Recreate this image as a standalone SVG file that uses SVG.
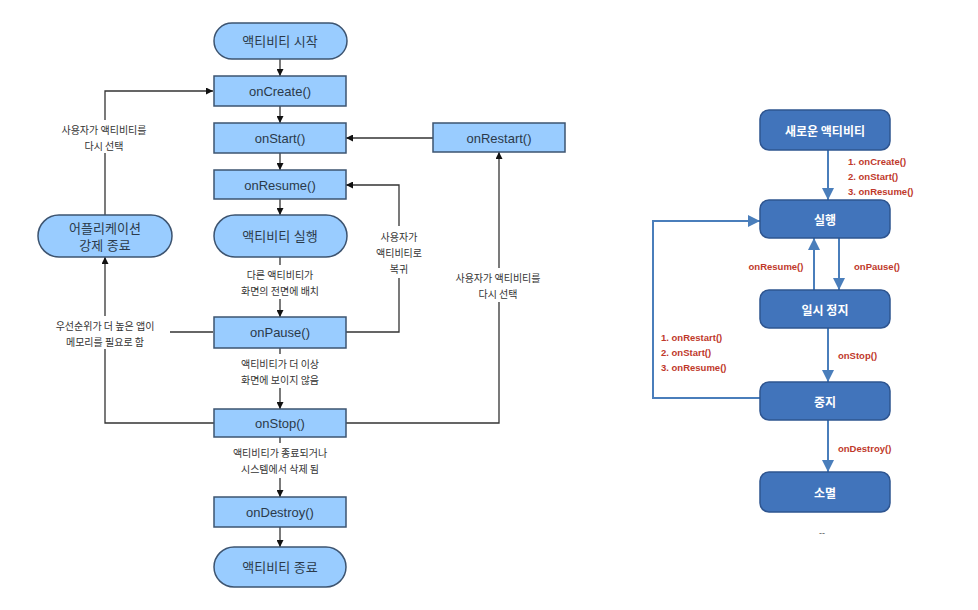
<svg xmlns="http://www.w3.org/2000/svg" width="978" height="610" viewBox="0 0 978 610">
<style>
.bg{fill:#ffffff}
.lnode{fill:#99ccff;stroke:#3d5470;stroke-width:1.5}
.ltxt{font-family:"Liberation Sans","Noto Sans CJK KR",sans-serif;font-size:13px;fill:#2b3a4a;text-anchor:middle;dominant-baseline:central}
.llab{font-family:"Noto Sans CJK KR","Liberation Sans",sans-serif;font-size:10px;fill:#333;text-anchor:middle;dominant-baseline:central}
.lline{fill:none;stroke:#333;stroke-width:1.3}
.rnode{fill:#4174bb;stroke:#2e5590;stroke-width:1.5}
.rtxt{font-family:"Noto Sans CJK KR","Liberation Sans",sans-serif;font-size:12px;font-weight:bold;fill:#ffffff;text-anchor:middle;dominant-baseline:central}
.rlab{font-family:"Liberation Sans","Noto Sans CJK KR",sans-serif;font-size:9.5px;font-weight:bold;fill:#c0392b;dominant-baseline:central}
.rline{fill:none;stroke:#4a7ebb;stroke-width:2}
</style>
<defs>
<marker id="ah" viewBox="0 0 10 10" refX="10" refY="5" markerWidth="7" markerHeight="7" markerUnits="userSpaceOnUse" orient="auto">
<path d="M0,0 L10,5 L0,10 z" fill="#111"/>
</marker>
<marker id="bh" viewBox="0 0 10 10" refX="10" refY="5" markerWidth="12" markerHeight="12" markerUnits="userSpaceOnUse" orient="auto">
<path d="M0,0 L10,5 L0,10 z" fill="#4a7ebb"/>
</marker>
</defs>
<rect class="bg" x="0" y="0" width="978" height="610"/>

<g id="connectors">
<path class="lline" d="M280,59 V76" marker-end="url(#ah)"/>
<path class="lline" d="M280,106 V123" marker-end="url(#ah)"/>
<path class="lline" d="M280,153 V170" marker-end="url(#ah)"/>
<path class="lline" d="M280,199 V215" marker-end="url(#ah)"/>
<path class="lline" d="M280,257 V265"/>
<path class="lline" d="M280,299 V317" marker-end="url(#ah)"/>
<path class="lline" d="M280,348 V354"/>
<path class="lline" d="M280,388 V409" marker-end="url(#ah)"/>
<path class="lline" d="M280,437 V443"/>
<path class="lline" d="M280,478 V497" marker-end="url(#ah)"/>
<path class="lline" d="M280,527 V547" marker-end="url(#ah)"/>
<path class="lline" d="M214,423 H105 V349"/>
<path class="lline" d="M105,316 V257" marker-end="url(#ah)"/>
<path class="lline" d="M213,332 H170"/>
<path class="lline" d="M105,215 V153"/>
<path class="lline" d="M105,120 V91 H213" marker-end="url(#ah)"/>
<path class="lline" d="M346,332 H399 V278"/>
<path class="lline" d="M399,226 V185 H346" marker-end="url(#ah)"/>
<path class="lline" d="M346,423 H499 V302"/>
<path class="lline" d="M499,268 V152" marker-end="url(#ah)"/>
<path class="lline" d="M433,138 H346" marker-end="url(#ah)"/>

<path class="rline" d="M828,150 V200" marker-end="url(#bh)"/>
<path class="rline" d="M839,238 V290" marker-end="url(#bh)"/>
<path class="rline" d="M814,290 V238" marker-end="url(#bh)"/>
<path class="rline" d="M828,328 V382" marker-end="url(#bh)"/>
<path class="rline" d="M828,420 V472" marker-end="url(#bh)"/>
<path class="rline" d="M760,398 H653 V221 H760" marker-end="url(#bh)"/>
</g>

<g id="connector-labels">
<text class="llab" x="280" y="274">다른 액티비티가</text>
<text class="llab" x="280" y="290">화면의 전면에 배치</text>
<text class="llab" x="280" y="363">액티비티가 더 이상</text>
<text class="llab" x="280" y="379">화면에 보이지 않음</text>
<text class="llab" x="280" y="452">액티비티가 종료되거나</text>
<text class="llab" x="280" y="468">시스템에서 삭제 됨</text>
<text class="llab" x="105" y="325">우선순위가 더 높은 앱이</text>
<text class="llab" x="105" y="341">메모리를 필요로 함</text>
<text class="llab" x="104" y="129">사용자가 액티비티를</text>
<text class="llab" x="104" y="145">다시 선택</text>
<text class="llab" x="399" y="236">사용자가</text>
<text class="llab" x="399" y="252">액티비티로</text>
<text class="llab" x="399" y="268">복귀</text>
<text class="llab" x="498" y="277">사용자가 액티비티를</text>
<text class="llab" x="498" y="293">다시 선택</text>

<text class="rlab" x="848" y="161">1. onCreate()</text>
<text class="rlab" x="848" y="176">2. onStart()</text>
<text class="rlab" x="848" y="191">3. onResume()</text>
<text class="rlab" x="776" y="266" text-anchor="middle">onResume()</text>
<text class="rlab" x="877" y="266" text-anchor="middle">onPause()</text>
<text class="rlab" x="661" y="337">1. onRestart()</text>
<text class="rlab" x="661" y="352">2. onStart()</text>
<text class="rlab" x="661" y="367">3. onResume()</text>
<text class="rlab" x="838" y="355">onStop()</text>
<text class="rlab" x="838" y="448">onDestroy()</text>
</g>

<g id="start"><rect class="lnode" x="214" y="23" width="133" height="36" rx="18"/><text class="ltxt" x="280" y="41">액티비티 시작</text></g>
<g id="onCreate"><rect class="lnode" x="214" y="76" width="132" height="30"/><text class="ltxt" x="280" y="91">onCreate()</text></g>
<g id="onStart"><rect class="lnode" x="214" y="123" width="132" height="30"/><text class="ltxt" x="280" y="138">onStart()</text></g>
<g id="onResume"><rect class="lnode" x="214" y="170" width="132" height="29"/><text class="ltxt" x="280" y="185">onResume()</text></g>
<g id="running"><rect class="lnode" x="214" y="215" width="133" height="42" rx="21"/><text class="ltxt" x="280" y="236">액티비티 실행</text></g>
<g id="killed"><rect class="lnode" x="38" y="215" width="134" height="42" rx="21"/><text class="ltxt" x="105" y="228">어플리케이션</text><text class="ltxt" x="105" y="245">강제 종료</text></g>
<g id="onPause"><rect class="lnode" x="214" y="317" width="132" height="31"/><text class="ltxt" x="280" y="332">onPause()</text></g>
<g id="onStop"><rect class="lnode" x="214" y="409" width="132" height="28"/><text class="ltxt" x="280" y="423">onStop()</text></g>
<g id="onDestroy"><rect class="lnode" x="214" y="497" width="132" height="30"/><text class="ltxt" x="280" y="512">onDestroy()</text></g>
<g id="end"><rect class="lnode" x="214" y="547" width="132" height="40" rx="20"/><text class="ltxt" x="280" y="567">액티비티 종료</text></g>
<g id="onRestart"><rect class="lnode" x="433" y="123" width="132" height="29"/><text class="ltxt" x="499" y="138">onRestart()</text></g>

<g id="newActivity"><rect class="rnode" x="760" y="110" width="130" height="40" rx="9"/><text class="rtxt" x="825" y="130">새로운 액티비티</text></g>
<g id="rRunning"><rect class="rnode" x="760" y="200" width="130" height="38" rx="9"/><text class="rtxt" x="825" y="219">실행</text></g>
<g id="rPaused"><rect class="rnode" x="760" y="290" width="130" height="38" rx="9"/><text class="rtxt" x="825" y="309">일시 정지</text></g>
<g id="rStopped"><rect class="rnode" x="760" y="382" width="130" height="38" rx="9"/><text class="rtxt" x="825" y="401">중지</text></g>
<g id="rDestroyed"><rect class="rnode" x="760" y="472" width="130" height="40" rx="9"/><text class="rtxt" x="825" y="492">소멸</text></g>
<text x="822" y="533" font-family="Liberation Sans,sans-serif" font-size="9" fill="#555" text-anchor="middle" dominant-baseline="central">--</text>
</svg>
